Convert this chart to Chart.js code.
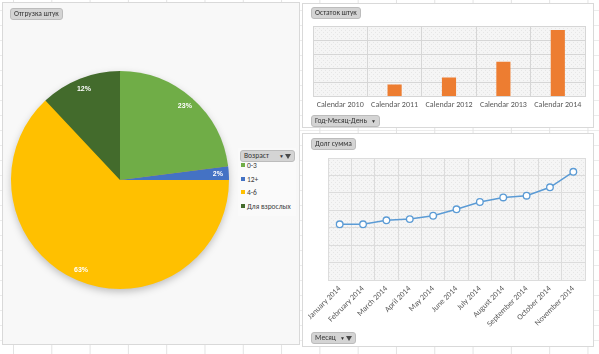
<!DOCTYPE html>
<html lang="ru">
<head>
    <meta charset="UTF-8">
    <title>Отгрузка / Остаток / Долг</title>
    <script src="https://cdn.jsdelivr.net/npm/chart.js"></script>
    <style>
        body {
            margin: 0;
            width: 599px;
            height: 354px;
            overflow: hidden;
            position: relative;
            font-family: 'Carlito', 'Liberation Sans Narrow', 'Liberation Sans', Arial, sans-serif;
            background-color: #ffffff;
            background-image:
                linear-gradient(to right, #e3e3e3 1px, transparent 1px),
                linear-gradient(to bottom, #ececec 1px, transparent 1px);
            background-size: 38.3px 15px, 38.3px 15px;
            background-position: 13px 0, 0 10px;
        }
        .panel {
            position: absolute;
            border: 1px solid #d9d9d9;
            box-sizing: border-box;
        }
        #pie-panel { left: 2px; top: 2px; width: 298px; height: 343px; background: #f8f8f8; }
        #bar-panel { left: 302px; top: 3px; width: 292px; height: 125px; background: #fff; }
        #line-panel { left: 302px; top: 133px; width: 292px; height: 214px; background: #fff; }
        canvas { position: absolute; }
        .btn {
            position: absolute;
            height: 10px;
            line-height: 10px;
            padding: 0 3px;
            font-size: 7.5px;
            color: #333;
            background: #d4d4d4;
            border: 1px solid #bcbcbc;
            border-radius: 3px;
            white-space: nowrap;
            display: flex;
            align-items: center;
        }
        .btn .arr { font-size: 5px; margin-left: 4px; }
        .btn .flt {
            display: inline-block;
            width: 0; height: 0;
            margin-left: 1px;
            border-left: 3px solid transparent;
            border-right: 3px solid transparent;
            border-top: 5px solid #4a4a4a;
        }
        #legend {
            position: absolute;
            left: 238px; top: 148px; width: 58px; height: 68px;
            background: #fafafa;
        }
        #legend .item {
            position: absolute;
            left: 3px;
            font-size: 7.5px;
            color: #404040;
            line-height: 8px;
            white-space: nowrap;
        }
        #legend .item span {
            display: inline-block;
            width: 4px; height: 4px;
            margin-right: 2px;
            vertical-align: 1px;
        }
    </style>
</head>
<body>
    <div class="panel" id="pie-panel"></div>
    <div class="panel" id="bar-panel"></div>
    <div class="panel" id="line-panel"></div>

    <canvas id="pie-chart" width="295" height="340" style="left:3px; top:3px;"></canvas>
    <canvas id="bar-chart" width="290" height="122" style="left:303px; top:4px;"></canvas>
    <canvas id="line-chart" width="290" height="200" style="left:303px; top:134px;"></canvas>

    <div class="btn" style="left:10px; top:8px;">Отгрузка штук</div>
    <div class="btn" style="left:311px; top:7px;">Остаток штук</div>
    <div class="btn" style="left:311px; top:115px;">Год-Месяц-День<span class="arr">&#9660;</span></div>
    <div class="btn" style="left:311px; top:138px;">Долг сумма</div>
    <div class="btn" style="left:311px; top:332px;">Месяц<span class="arr">&#9660;</span><span class="flt"></span></div>

    <div id="legend">
        <div class="btn" style="left:2px; top:2px; width:47px;">Возраст<span class="arr" style="margin-left:auto;">&#9660;</span><span class="flt"></span></div>
    </div>

    <script>
        // Отгрузка штук по возрасту (доли, %)
        const ageLabels = ['0-3', '12+', '4-6', 'Для взрослых'];
        const ageShares = [23, 2, 63, 12];
        const ageColors = ['#70ad47', '#4472c4', '#ffc000', '#436b2c'];

        // Остаток штук по годам
        const yearLabels = ['Calendar 2010', 'Calendar 2011', 'Calendar 2012', 'Calendar 2013', 'Calendar 2014'];
        const stockValues = [0, 850, 1340, 2460, 4720];

        // Долг сумма по месяцам
        const monthLabels = ['January 2014', 'February 2014', 'March 2014', 'April 2014', 'May 2014', 'June 2014',
            'July 2014', 'August 2014', 'September 2014', 'October 2014', 'November 2014'];
        const debtValues = [3200, 3200, 3430, 3500, 3690, 4060, 4480, 4740, 4840, 5320, 6210];

        const tickFont = { family: "'Carlito', 'Liberation Sans Narrow', 'Liberation Sans', Arial, sans-serif", size: 8 };
        const tickColor = '#595959';

        // legend built from the age arrays
        const legend = document.getElementById('legend');
        const itemTops = [14, 28, 41, 55];
        ageLabels.forEach((label, i) => {
            const d = document.createElement('div');
            d.className = 'item';
            d.style.top = itemTops[i] + 'px';
            d.innerHTML = `<span style="background:${ageColors[i]}"></span>${label}`;
            legend.appendChild(d);
        });

        // hatched plot background like excel's pattern fill
        function makePattern() {
            const c = document.createElement('canvas');
            c.width = 4; c.height = 4;
            const p = c.getContext('2d');
            p.fillStyle = '#f5f5f5';
            p.fillRect(0, 0, 4, 4);
            p.fillStyle = '#e6e6e6';
            p.fillRect(0, 0, 1, 1);
            p.fillRect(2, 2, 1, 1);
            return p.createPattern(c, 'repeat');
        }

        const plotBackground = {
            id: 'plotBackground',
            beforeDraw(chart) {
                const a = chart.chartArea;
                const ctx = chart.ctx;
                ctx.save();
                ctx.fillStyle = makePattern();
                ctx.fillRect(a.left, a.top, a.right - a.left, a.bottom - a.top);
                ctx.restore();
            }
        };

        // shadow circle under the pie + percent labels
        const pieExtras = {
            id: 'pieExtras',
            beforeDatasetsDraw(chart) {
                const arc = chart.getDatasetMeta(0).data[0];
                const ctx = chart.ctx;
                ctx.save();
                ctx.shadowColor = 'rgba(0,0,0,0.28)';
                ctx.shadowBlur = 9;
                ctx.shadowOffsetY = 3;
                ctx.fillStyle = '#ffc000';
                ctx.beginPath();
                ctx.arc(arc.x, arc.y, arc.outerRadius - 1, 0, Math.PI * 2);
                ctx.fill();
                ctx.restore();
            },
            afterDatasetsDraw(chart) {
                const ctx = chart.ctx;
                ctx.save();
                ctx.fillStyle = '#ffffff';
                ctx.font = "bold 7px 'Liberation Sans', Arial, sans-serif";
                ctx.textAlign = 'center';
                ctx.textBaseline = 'middle';
                chart.getDatasetMeta(0).data.forEach((arc, i) => {
                    const mid = (arc.startAngle + arc.endAngle) / 2;
                    const r = arc.outerRadius * 0.9;
                    ctx.fillText(ageShares[i] + '%', arc.x + Math.cos(mid) * r, arc.y + Math.sin(mid) * r);
                });
                ctx.restore();
            }
        };

        new Chart(document.getElementById('pie-chart'), {
            type: 'pie',
            data: {
                labels: ageLabels,
                datasets: [{
                    data: ageShares,
                    backgroundColor: ageColors,
                    borderWidth: 0
                }]
            },
            options: {
                responsive: false,
                animation: false,
                layout: { padding: { left: 8, top: 68, right: 69, bottom: 54 } },
                plugins: { legend: { display: false }, tooltip: { enabled: false } }
            },
            plugins: [pieExtras]
        });

        new Chart(document.getElementById('bar-chart'), {
            type: 'bar',
            data: {
                labels: yearLabels,
                datasets: [{
                    data: stockValues,
                    backgroundColor: '#ed7d31',
                    barPercentage: 0.26,
                    categoryPercentage: 1
                }]
            },
            options: {
                responsive: false,
                animation: false,
                layout: { padding: { left: 10, top: 22, right: 8, bottom: 12 } },
                plugins: { legend: { display: false }, tooltip: { enabled: false } },
                scales: {
                    x: {
                        grid: { color: '#d6d6d6', drawTicks: false },
                        border: { color: '#d6d6d6' },
                        ticks: { color: tickColor, font: tickFont, padding: 4, maxRotation: 0 }
                    },
                    y: {
                        min: 0, max: 5000,
                        grid: { color: '#d6d6d6', drawTicks: false },
                        border: { display: false },
                        ticks: { display: false, stepSize: 1000 }
                    }
                }
            },
            plugins: [plotBackground]
        });

        new Chart(document.getElementById('line-chart'), {
            type: 'line',
            data: {
                labels: monthLabels,
                datasets: [{
                    data: debtValues,
                    borderColor: '#5b9bd5',
                    borderWidth: 1.5,
                    pointBackgroundColor: '#ffffff',
                    pointBorderColor: '#5b9bd5',
                    pointBorderWidth: 1.3,
                    pointRadius: 3.3,
                    tension: 0
                }]
            },
            options: {
                responsive: false,
                animation: false,
                layout: { padding: { left: 25, top: 24, right: 8, bottom: 1 } },
                plugins: { legend: { display: false }, tooltip: { enabled: false } },
                scales: {
                    x: {
                        offset: true,
                        grid: { color: '#dcdcdc', drawTicks: false, offset: true },
                        border: { color: '#dcdcdc' },
                        ticks: { color: tickColor, font: tickFont, padding: 4, minRotation: 45, maxRotation: 45 }
                    },
                    y: {
                        min: 0, max: 7000,
                        grid: { color: '#dcdcdc', drawTicks: false },
                        border: { display: false },
                        ticks: { display: false, stepSize: 1000 }
                    }
                }
            },
            plugins: [plotBackground]
        });
    </script>
</body>
</html>
